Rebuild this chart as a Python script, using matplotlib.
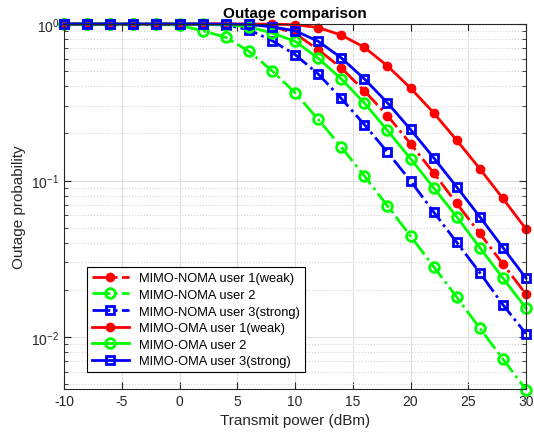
import numpy as np
import matplotlib
matplotlib.use('Agg')
import matplotlib.pyplot as plt
from matplotlib.ticker import LogLocator, NullFormatter

plt.rcParams['font.family'] = ['Liberation Sans', 'DejaVu Sans']
plt.rcParams['axes.unicode_minus'] = False

# Transmit power (dBm)
power = [-10, -8, -6, -4, -2, 0, 2, 4, 6, 8, 10, 12, 14, 16, 18, 20, 22, 24, 26, 28, 30]

# Outage probabilities
noma_u1 = [1.0, 1.0, 1.0, 1.0, 1.0, 1.0, 1.0, 1.0, 0.995, 0.97, 0.87, 0.686, 0.525, 0.374,
           0.26, 0.172, 0.112, 0.0714, 0.046, 0.0293, 0.0188]
noma_u2 = [1.0, 1.0, 1.0, 1.0, 0.998, 0.98, 0.906, 0.822, 0.67, 0.504, 0.364, 0.246, 0.164,
           0.107, 0.069, 0.0442, 0.0282, 0.018, 0.0114, 0.00724, 0.00462]
noma_u3 = [1.0, 1.0, 1.0, 1.0, 1.0, 1.0, 0.998, 0.985, 0.92, 0.783, 0.638, 0.48, 0.335,
           0.228, 0.152, 0.0995, 0.063, 0.0403, 0.0258, 0.0161, 0.0105]
oma_u1 = [1.0, 1.0, 1.0, 1.0, 1.0, 1.0, 1.0, 1.0, 1.0, 0.998, 0.99, 0.95, 0.85, 0.71,
          0.54, 0.39, 0.271, 0.181, 0.119, 0.0768, 0.049]
oma_u2 = [1.0, 1.0, 1.0, 1.0, 1.0, 1.0, 0.999, 0.99, 0.96, 0.876, 0.776, 0.605, 0.446,
          0.313, 0.209, 0.138, 0.090, 0.0587, 0.0373, 0.0238, 0.0153]
oma_u3 = [1.0, 1.0, 1.0, 1.0, 1.0, 1.0, 1.0, 0.999, 0.995, 0.96, 0.906, 0.776, 0.608,
          0.446, 0.314, 0.212, 0.14, 0.091, 0.0587, 0.0373, 0.0238]

fig = plt.figure(figsize=(5.34, 4.39), dpi=100)
ax = fig.add_axes([0.120, 0.112, 0.865, 0.831])

lw = 2.0
ms = 6
ax.semilogy(power, noma_u1, 'r-.', marker='o', mfc='r', mec='r', lw=lw, ms=ms,
            label='MIMO-NOMA user 1(weak)', clip_on=False)
ax.semilogy(power, noma_u2, '-.', color=(0, 1, 0), marker='o', mfc='none', mew=2,
            lw=lw, ms=ms + 1, label='MIMO-NOMA user 2', clip_on=False)
ax.semilogy(power, noma_u3, 'b-.', marker='s', mfc='none', mew=2, lw=lw, ms=ms,
            label='MIMO-NOMA user 3(strong)', clip_on=False)
ax.semilogy(power, oma_u1, 'r-', marker='o', mfc='r', mec='r', lw=lw, ms=ms,
            label='MIMO-OMA user 1(weak)', clip_on=False)
ax.semilogy(power, oma_u2, '-', color=(0, 1, 0), marker='o', mfc='none', mew=2,
            lw=lw, ms=ms + 1, label='MIMO-OMA user 2', clip_on=False)
ax.semilogy(power, oma_u3, 'b-', marker='s', mfc='none', mew=2, lw=lw, ms=ms,
            label='MIMO-OMA user 3(strong)', clip_on=False)

ax.set_xlim(-10, 30)
ax.set_ylim(0.00467, 1)
ax.set_xticks(np.arange(-10, 31, 5))
ax.yaxis.set_major_locator(LogLocator(base=10, numticks=10))
ax.yaxis.set_minor_locator(LogLocator(base=10, subs=np.arange(2, 10), numticks=20))
ax.yaxis.set_minor_formatter(NullFormatter())

ax.grid(True, which='major', color='#e0e0e0', linewidth=0.8)
ax.grid(True, which='minor', axis='y', color='#d4d4d4', linestyle=':', linewidth=0.8)
ax.set_axisbelow(True)

ax.tick_params(which='both', direction='in', top=True, right=True, labelsize=10,
               color='#262626', labelcolor='#262626')
ax.tick_params(which='major', length=5)
ax.tick_params(which='minor', length=3)
for s in ax.spines.values():
    s.set_color('#262626')
    s.set_linewidth(0.8)

ax.set_xlabel('Transmit power (dBm)', fontsize=11, color='#262626')
ax.set_ylabel('Outage probability', fontsize=11, color='#262626')
ax.set_title('Outage comparison', fontsize=11, fontweight='bold', pad=5)

leg = ax.legend(loc='lower left', bbox_to_anchor=(0.05, 0.045), fontsize=9.3,
                fancybox=False, edgecolor='black', framealpha=1, handlelength=2.8,
                borderaxespad=0, labelspacing=0.35)
leg.get_frame().set_linewidth(0.8)

plt.savefig('out.png', dpi=100)
